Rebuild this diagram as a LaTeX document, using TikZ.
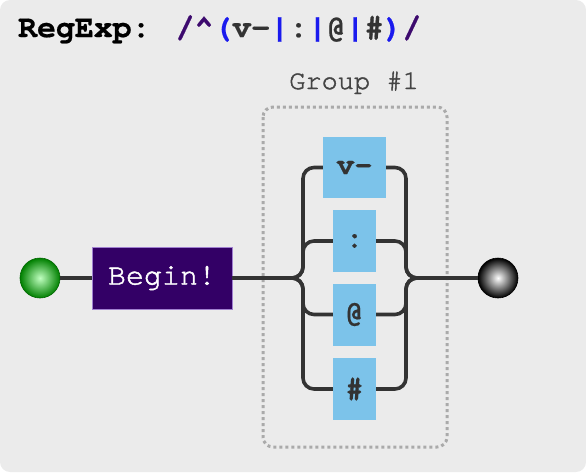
\documentclass[tikz,border=0pt]{standalone}
\usepackage{fontspec}
\setmonofont{TeX Gyre Cursor}
\newfontfamily\medtt[FakeBold=1.6]{TeX Gyre Cursor}
\newfontfamily\heavytt[FakeBold=0.6]{TeX Gyre Cursor Bold}
\usetikzlibrary{calc}
\definecolor{bgc}{HTML}{EBEBEB}
\definecolor{railc}{HTML}{333333}
\definecolor{beginfill}{HTML}{330066}
\definecolor{beginedge}{HTML}{A080D0}
\definecolor{litfill}{HTML}{7CC3EA}
\definecolor{rxpurple}{HTML}{3D0A6E}
\definecolor{rxblue}{HTML}{1A1AEE}
\definecolor{rxdark}{HTML}{333333}
\definecolor{groupc}{HTML}{AAAAAA}
\definecolor{grouptext}{HTML}{444444}
\tikzset{
  x=1pt, y=-1pt,
  rail/.style={draw=railc, line width=3.6pt, rounded corners=11pt},
  litbox/.style={fill=litfill, inner sep=0pt, font=\heavytt\fontsize{30}{30}\selectfont, text=rxdark},
  beginbox/.style={fill=beginfill, draw=beginedge, line width=0.8pt, inner sep=0pt, minimum width=140pt, minimum height=62pt, font=\medtt\fontsize{30}{30}\selectfont, text=white},
  startball/.style={circle, minimum size=40pt, inner sep=0pt, draw=green!40!black, line width=0.6pt, inner color=green!25!white, outer color=green!50!black},
  endball/.style={circle, minimum size=40pt, inner sep=0pt, draw=black, line width=0.6pt, inner color=white, outer color=black},
}
\begin{document}
\begin{tikzpicture}
\useasboundingbox (0,0) rectangle (586,472);
\fill[bgc, rounded corners=10pt] (0,0) rectangle (586,472);
% title
\node[anchor=base west, inner sep=0pt, font=\heavytt\fontsize{31.5}{31.5}\selectfont] (title) at (18,37)
  {RegExp: \textcolor{rxpurple}{/\textasciicircum}\textcolor{rxblue}{(}\textcolor{rxdark}{v-}\textcolor{rxblue}{|}\textcolor{rxdark}{:}\textcolor{rxblue}{|}\textcolor{rxdark}{@}\textcolor{rxblue}{|}\textcolor{rxdark}{\#}\textcolor{rxblue}{)}\textcolor{rxpurple}{/}};
% group
\draw[groupc, line width=3pt, dash pattern=on 3pt off 3pt, rounded corners=10pt] (263,107) rectangle (447,447);
\node[font=\medtt\fontsize{27}{27}\selectfont, text=grouptext, anchor=base] (glabel) at (354,89) {Group \#1};
% nodes
\node[startball] (start) at (40,278) {};
\node[endball] (end) at (498,278) {};
\node[beginbox] (begin) at (162,278) {Begin!};
\node[litbox, minimum width=63pt, minimum height=61pt] (v) at (354.5,167.5) {v-};
\node[litbox, minimum width=43pt, minimum height=62pt] (colon) at (354.5,241) {:};
\node[litbox, minimum width=43pt, minimum height=62pt] (at) at (354.5,314.5) {@};
\node[litbox, minimum width=43pt, minimum height=62pt] (hash) at (354.5,389) {\#};
\coordinate (lrail) at (303,278);
\coordinate (rrail) at (406,278);
% connectors
\draw[rail] (start) -- (begin);
\foreach \b in {v,colon,at,hash}{
  \draw[rail] (begin.east) -| (lrail |- \b.west) -- (\b.west);
  \draw[rail] (\b.east) -| (rrail) -- (end.west);
}
\end{tikzpicture}
\end{document}
